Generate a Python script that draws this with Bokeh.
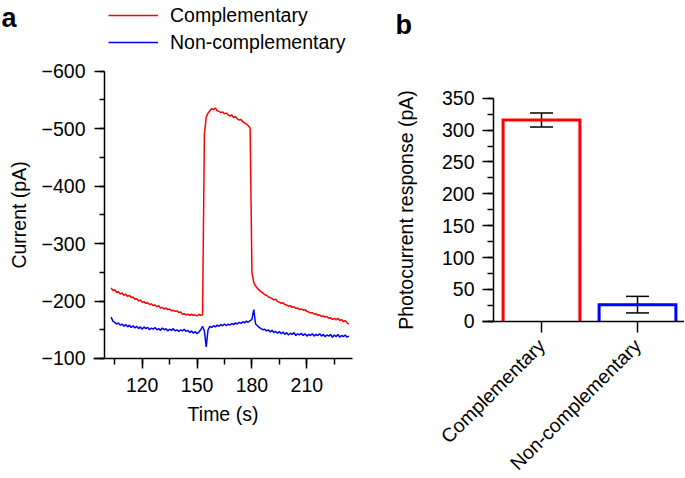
import math
from bokeh.plotting import figure
from bokeh.layouts import row
from bokeh.models import (Range1d, SingleIntervalTicker, FixedTicker, CustomJSTickFormatter,
                          Legend, LegendItem, Label, Whisker, TeeHead, ColumnDataSource)
from bokeh.embed import file_html
from bokeh.resources import INLINE

# ---------------- data ----------------
time_s = list(range(103, 234))

complementary_pA = [
    -223, -218, -220, -215, -216, -212, -214, -210, -212, -208,
    -210, -206, -207, -203, -204, -200, -202, -198, -199, -196,
    -197, -194, -195, -192, -193, -190, -192, -188, -189, -186,
    -188, -185, -186, -183, -184, -182, -183, -180, -181, -177,
    -178, -176, -177, -175, -177, -175, -176, -174, -177, -175,
    -176, -490, -520, -527, -531, -535, -533, -536, -531, -530,
    -528, -529, -526, -527, -524, -522, -524, -519, -521, -517,
    -515, -516, -512, -510, -508, -505, -501, -250, -232, -226,
    -222, -219, -216, -214, -211, -210, -207, -206, -204, -202,
    -203, -199, -198, -196, -197, -194, -193, -191, -192, -189,
    -190, -187, -188, -185, -186, -184, -185, -182, -181, -179,
    -180, -177, -178, -175, -176, -173, -174, -172, -173, -170,
    -171, -168, -170, -167, -170, -166, -168, -164, -166, -162,
    -160,
]

noncomplementary_pA = [
    -172, -165, -163, -160, -162, -158, -160, -156, -159, -155,
    -158, -154, -157, -153, -156, -152, -155, -151, -155, -152,
    -154, -150, -153, -151, -154, -150, -152, -149, -153, -150,
    -152, -148, -151, -149, -152, -148, -150, -147, -150, -148,
    -151, -147, -149, -145, -148, -144, -147, -143, -146, -150,
    -156, -148, -120, -150, -156, -154, -157, -155, -158, -156,
    -159, -157, -160, -157, -160, -158, -161, -159, -162, -160,
    -163, -161, -164, -162, -165, -163, -166, -168, -185, -160,
    -157, -154, -152, -150, -151, -148, -150, -146, -149, -145,
    -147, -144, -147, -143, -146, -142, -145, -141, -144, -142,
    -145, -140, -143, -141, -144, -140, -143, -139, -142, -140,
    -143, -139, -142, -140, -143, -139, -142, -138, -141, -139,
    -142, -137, -141, -138, -142, -137, -140, -138, -141, -137,
    -139,
]

series_labels = ["Complementary", "Non-complementary"]

categories = ["Complementary", "Non-complementary"]
response_pA = [316, 26]
response_err_pA = [11, 13]

# ---------------- style ----------------
FONT = "Liberation Sans"
FS = "19.5px"
RED = "#ff0000"
BLUE = "#0000ff"
H = 477


def style_axis(ax):
    ax.axis_line_width = 1.5
    ax.axis_line_color = "black"
    ax.major_tick_line_width = 1.5
    ax.minor_tick_line_width = 1.5
    ax.major_tick_line_color = "black"
    ax.minor_tick_line_color = "black"
    ax.major_tick_in = 0
    ax.minor_tick_in = 0
    ax.major_label_text_font = FONT
    ax.major_label_text_font_size = FS
    ax.major_label_text_color = "black"
    ax.axis_label_text_font = FONT
    ax.axis_label_text_font_size = FS
    ax.axis_label_text_font_style = "normal"
    ax.axis_label_text_color = "black"


def bare(p):
    p.outline_line_color = None
    p.xgrid.visible = False
    p.ygrid.visible = False
    p.min_border_left = 0
    p.min_border_right = 0
    p.min_border_top = 0
    p.min_border_bottom = 0


# ---------------- panel a ----------------
pa = figure(output_backend="svg", toolbar_location=None, title=None,
            frame_width=395, frame_height=H,
            x_range=Range1d(42.53, 258.49), y_range=Range1d(107.1, -723.0))
bare(pa)

r1 = pa.line(time_s, complementary_pA, line_color=RED, line_width=1.5)
r2 = pa.line(time_s, noncomplementary_pA, line_color=BLUE, line_width=1.5)

xa = pa.xaxis[0]
style_axis(xa)
xa.fixed_location = -100
xa.bounds = (93.4, 235.0)
xa.ticker = SingleIntervalTicker(interval=30, num_minor_ticks=2)
xa.major_tick_out = 10
xa.minor_tick_out = 6
xa.major_label_standoff = 10
xa.axis_label = "Time (s)"
xa.axis_label_standoff = 7

ya = pa.yaxis[0]
style_axis(ya)
ya.fixed_location = 99.4
ya.bounds = (-600, -100)
ya.ticker = SingleIntervalTicker(interval=100, num_minor_ticks=2)
ya.major_tick_out = 10
ya.minor_tick_out = 5
ya.major_label_standoff = 9
ya.axis_label = "Current (pA)"
ya.axis_label_standoff = 9
ya.formatter = CustomJSTickFormatter(code="return (tick < 0 ? '\\u2212' : '') + Math.abs(tick).toString();")

leg = Legend(items=[LegendItem(label=series_labels[0], renderers=[r1]),
                    LegendItem(label=series_labels[1], renderers=[r2])],
             location=(108, 423.5), orientation="vertical", glyph_width=50, glyph_height=22,
             label_height=22, label_standoff=12, spacing=4, padding=0, margin=0,
             border_line_color=None, background_fill_alpha=0,
             label_text_font=FONT, label_text_font_size=FS, label_text_color="black")
pa.add_layout(leg, "center")

pa.add_layout(Label(x=1, y=H - 17, x_units="screen", y_units="screen", text="a",
                    text_font=FONT, text_font_size="27px", text_font_style="bold",
                    text_baseline="alphabetic", text_align="left", text_color="black"))

# ---------------- panel b ----------------
x_pos = [i + 1 for i in range(len(categories))]
bar_w = 0.8

pb = figure(output_backend="svg", toolbar_location=None, title=None,
            frame_width=289, frame_height=H,
            x_range=Range1d(-0.5208, 2.4896), y_range=Range1d(-245.3, 503.4))
bare(pb)

xs = [[x - bar_w / 2, x - bar_w / 2, x + bar_w / 2, x + bar_w / 2] for x in x_pos]
ys = [[0, v, v, 0] for v in response_pA]
pb.multi_line(xs, ys, line_color=[RED, BLUE], line_width=3, line_join="miter")

src = ColumnDataSource(dict(x=x_pos,
                            upper=[v + e for v, e in zip(response_pA, response_err_pA)],
                            lower=[v - e for v, e in zip(response_pA, response_err_pA)]))
pb.add_layout(Whisker(source=src, base="x", upper="upper", lower="lower", dimension="height",
                      line_width=1.5, line_color="black",
                      upper_head=TeeHead(size=23, line_width=1.5, line_color="black"),
                      lower_head=TeeHead(size=23, line_width=1.5, line_color="black")))

xb = pb.xaxis[0]
style_axis(xb)
xb.fixed_location = 0
xb.bounds = (0.3854, 2.4896)
xb.ticker = FixedTicker(ticks=x_pos)
xb.major_tick_out = 11
xb.minor_tick_out = 0
xb.major_label_standoff = 10
xb.major_label_orientation = math.pi / 4
xb.major_label_overrides = {x: c for x, c in zip(x_pos, categories)}

yb = pb.yaxis[0]
style_axis(yb)
yb.fixed_location = 0.5
yb.bounds = (0, 350)
yb.ticker = SingleIntervalTicker(interval=50, num_minor_ticks=2)
yb.major_tick_out = 11
yb.minor_tick_out = 6
yb.major_label_standoff = 8
yb.axis_label = "Photocurrent response (pA)"
yb.axis_label_standoff = 22

pb.add_layout(Label(x=0, y=H - 24, x_units="screen", y_units="screen", text="b",
                    text_font=FONT, text_font_size="27px", text_font_style="bold",
                    text_baseline="alphabetic", text_align="left", text_color="black"))

layout = row(pa, pb)
open("out.html", "w").write(file_html(layout, INLINE))
